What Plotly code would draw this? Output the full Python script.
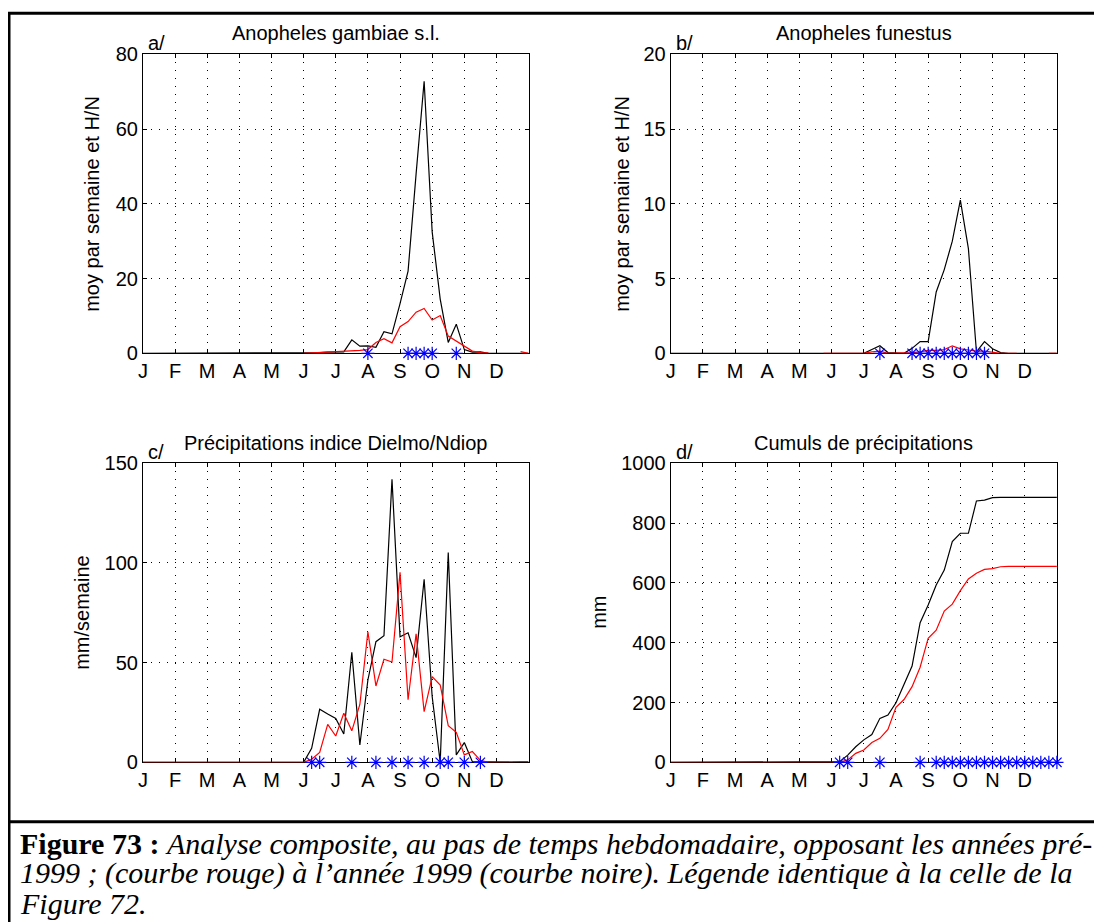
import plotly.graph_objects as go

# The page body adds an 8 px offset; the figure is sized so that it fills the window.
OFF = 8
W, H = 1102 - OFF, 922 - OFF

# x positions: 48 "weeks" (4 per month), axis from 0 to 48
weeks = list(range(49))
month_ticks = [0, 4, 8, 12, 16, 20, 24, 28, 32, 36, 40, 44]
month_labels = ["J", "F", "M", "A", "M", "J", "J", "A", "S", "O", "N", "D"]

N = None
# a/ Anopheles gambiae s.l.
gamb_black = [0, 0, 0, 0, 0, 0, 0, 0, 0, 0, 0, 0, 0, 0, 0, 0, 0, 0, 0, 0,
              0, 0, 0.2, 0.3, 0.4, 0.4, 3.6, 1.9, 2.0, 1.6, 5.8, 5.2, 13.3, 22.0, 48.0, 72.8,
              32.5, 14.5, 2.9, 7.8, 1.0, 0.3, 0.4, 0, 0, 0, 0, 0, 0]
gamb_red = [N, N, N, N, N, N, N, N, N, N, N, N, N, N, N, N, N, N, N, N,
            0.0, 0.1, 0.2, 0.3, 0.4, 0.5, 0.6, 0.8, 1.0, 2.9, 3.9, 2.8, 7.1, 8.5, 11.0, 12.0,
            8.9, 10.1, 4.6, 3.3, 1.9, 0.6, 0.2, 0.1, N, N, N, 0.45, 0.0]
gamb_stars = [28, 33, 34, 35, 36, 39]

# b/ Anopheles funestus
fun_black = [0, 0, 0, 0, 0, 0, 0, 0, 0, 0, 0, 0, 0, 0, 0, 0, 0, 0, 0, 0,
             0, 0, 0, 0, 0.0, 0.25, 0.5, 0.05, 0.0, 0.0, 0.33, 0.78, 0.78, 4.1, 5.6, 7.5,
             10.25, 7.0, 0.1, 0.78, 0.3, 0.05, 0, 0, 0, 0, 0, 0, 0]
fun_red = [N, N, N, N, N, N, N, N, N, N, N, N, N, N, N, N, N, N, N, 0.0,
           0.0, 0.0, 0.0, 0.0, 0.0, 0.1, 0.15, 0.0, 0.0, 0.0, 0.05, 0.1, 0.2, 0.2, 0.25, 0.5,
           0.3, 0.22, 0.15, 0.15, 0.05, 0.0, 0.0, 0.0, N, N, N, 0.0, 0.0]
fun_stars = [26, 30, 31, 32, 33, 34, 35, 36, 37, 38, 39]

# c/ Précipitations indice Dielmo/Ndiop (mm/semaine)
prec_black = [0, 0, 0, 0, 0, 0, 0, 0, 0, 0, 0, 0, 0, 0, 0, 0, 0, 0, 0, 0,
              0.0, 7.0, 26.6, 24.2, 22.0, 14.2, 55.2, 8.7, 41.3, 60.5, 63.5, 142.0, 63.0, 65.0, 52.5, 91.8,
              33.0, 0.0, 105.2, 3.7, 9.9, 0.3, 0.3, 0, 0, 0, 0, 0, 0]
prec_red = [0, 0, 0, 0, 0, 0, 0, 0, 0, 0, 0, 0, 0, 0, 0, 0, 0, 0, 0, 0,
            0.0, 1.5, 5.0, 19.0, 13.2, 24.6, 15.8, 29.0, 65.5, 38.3, 51.7, 50.3, 95.3, 31.4, 64.5, 25.4,
            43.0, 38.8, 18.4, 15.0, 3.7, 5.4, 1.0, 0.0, 0.0, 0.0, 0.2, 0.4, 0.3]
prec_stars = [21, 22, 26, 29, 31, 33, 35, 37, 38, 40, 42]

# d/ Cumuls de précipitations (mm)
cum_black = [0, 0, 0, 0, 0, 0, 0, 0, 0, 0, 0, 0, 0, 0, 0, 0, 0, 0, 0, 0,
             0, 2, 24, 52, 75, 93, 147, 158, 199, 258, 322, 467, 526, 593, 643, 738,
             766, 766, 874, 877, 885, 886, 886, 886, 886, 886, 886, 886, 886]
cum_red = [0, 0, 0, 0, 0, 0, 0, 0, 0, 0, 0, 0, 0, 0, 0, 0, 0, 0, 0, 0,
           0, 0, 8, 30, 41, 66, 80, 110, 184, 210, 253, 318, 415, 442, 506, 529,
           574, 613, 632, 645, 648, 654, 655, 655, 655, 655, 655, 655, 655]
cum_stars = [21, 22, 26, 31, 33, 34, 35, 36, 37, 38, 39, 40, 41, 42, 43, 44, 45, 46, 47, 48]

titles = ["Anopheles gambiae s.l.", "Anopheles funestus",
          "Précipitations indice Dielmo/Ndiop", "Cumuls de précipitations"]
letters = ["a/", "b/", "c/", "d/"]
ylabels = ["moy par semaine et H/N", "moy par semaine et H/N", "mm/semaine", "mm"]
yranges = [80, 20, 150, 1000]
ydticks = [20, 5, 50, 200]

caption_lines = [
    "<b>Figure 73 :</b> <i>Analyse composite, au pas de temps hebdomadaire, opposant les années pré-</i>",
    "<i>1999 ; (courbe rouge) à l’année 1999 (courbe noire). Légende identique à la celle de la</i>",
    "<i>Figure 72.</i>",
]

FONT = "Liberation Sans, Arial, Helvetica, sans-serif"
SERIF = "Liberation Serif, Times New Roman, serif"


def px(x):
    # page pixel -> paper fraction
    return (x - OFF) / W


def py(y):
    return 1 - (y - OFF) / H


# panel boxes in page pixels: left, right, top, bottom
boxes = [(142.9, 528.6, 54.3, 353.3), (670.7, 1056.9, 54.3, 353.3),
         (142.9, 528.6, 463.3, 762.3), (670.7, 1056.9, 463.3, 762.3)]

series = [(gamb_black, gamb_red, gamb_stars), (fun_black, fun_red, fun_stars),
          (prec_black, prec_red, prec_stars), (cum_black, cum_red, cum_stars)]

fig = go.Figure()
layout = dict(width=W, height=H, margin=dict(l=0, r=0, t=0, b=0, pad=0, autoexpand=False),
              autosize=False,
              paper_bgcolor="white", plot_bgcolor="white", showlegend=False,
              font=dict(family=FONT, size=20, color="black"))
annotations = []
shapes = []

for i, (box, (blk, red, stars)) in enumerate(zip(boxes, series)):
    n = i + 1
    xa = "x" if n == 1 else f"x{n}"
    ya = "y" if n == 1 else f"y{n}"
    l, r, t, b = box
    common = dict(showline=True, linecolor="black", linewidth=1, mirror="ticks",
                  ticks="inside", ticklen=4, tickcolor="black", tickwidth=1,
                  showgrid=True, gridcolor="black", gridwidth=1, griddash="1px,7px",
                  zeroline=False, layer="below traces", automargin=False,
                  tickfont=dict(family=FONT, size=20, color="black"), fixedrange=True)
    layout["xaxis" if n == 1 else f"xaxis{n}"] = dict(
        domain=[px(l), px(r)], range=[0, 48], tickmode="array",
        tickvals=month_ticks, ticktext=month_labels, anchor=ya,
        ticklabelstandoff=0, **common)
    layout["yaxis" if n == 1 else f"yaxis{n}"] = dict(
        domain=[py(b), py(t)], range=[0, yranges[i]], dtick=ydticks[i], tick0=0,
        anchor=xa, ticklabelstandoff=0, **common)

    fig.add_trace(go.Scatter(x=weeks, y=blk, mode="lines", line=dict(color="black", width=1.2),
                             xaxis=xa, yaxis=ya, cliponaxis=False, connectgaps=False))
    fig.add_trace(go.Scatter(x=weeks, y=red, mode="lines", line=dict(color="#ff0000", width=1.2),
                             xaxis=xa, yaxis=ya, cliponaxis=False, connectgaps=False))
    fig.add_trace(go.Scatter(x=stars, y=[0] * len(stars), mode="markers",
                             marker=dict(symbol="asterisk-open", size=11, color="#0000ff",
                                         line=dict(color="#0000ff", width=1.2)),
                             xaxis=xa, yaxis=ya, cliponaxis=False))

    cx = (l + r) / 2
    annotations.append(dict(text=titles[i], x=px(cx), y=py(t - 21 if i < 2 else t - 20.6),
                            xref="paper", yref="paper", xanchor="center", yanchor="middle",
                            showarrow=False, font=dict(family=FONT, size=20, color="black")))
    annotations.append(dict(text=letters[i], x=px(l + 3), y=py(t - 11), xref="paper", yref="paper",
                            xanchor="left", yanchor="middle", showarrow=False,
                            font=dict(family=FONT, size=20, color="black")))

ylab_x = [92, 622, 82, 599]
for i, box in enumerate(boxes):
    l, r, t, b = box
    annotations.append(dict(text=ylabels[i], x=px(ylab_x[i]), y=py((t + b) / 2), xref="paper",
                            yref="paper", xanchor="center", yanchor="middle", textangle=-90,
                            showarrow=False, font=dict(family=FONT, size=20, color="black")))

cap_y = [843, 873, 903]
for line, yy in zip(caption_lines, cap_y):
    annotations.append(dict(text=line, x=px(18), y=py(yy), xref="paper", yref="paper",
                            xanchor="left", yanchor="middle", showarrow=False, align="left",
                            font=dict(family=SERIF, size=30, color="black")))

# frame around the figure and caption
frame = dict(type="line", xref="paper", yref="paper", line=dict(color="black", width=3))
shapes.append(dict(frame, x0=px(8), x1=px(1102), y0=py(13.3), y1=py(13.3)))
shapes.append(dict(frame, x0=px(9), x1=px(9), y0=py(13.3), y1=py(922)))
shapes.append(dict(frame, x0=px(8), x1=px(1102), y0=py(821.7), y1=py(821.7)))

layout["annotations"] = annotations
layout["shapes"] = shapes
fig.update_layout(**layout)
fig.write_html("out.html")
